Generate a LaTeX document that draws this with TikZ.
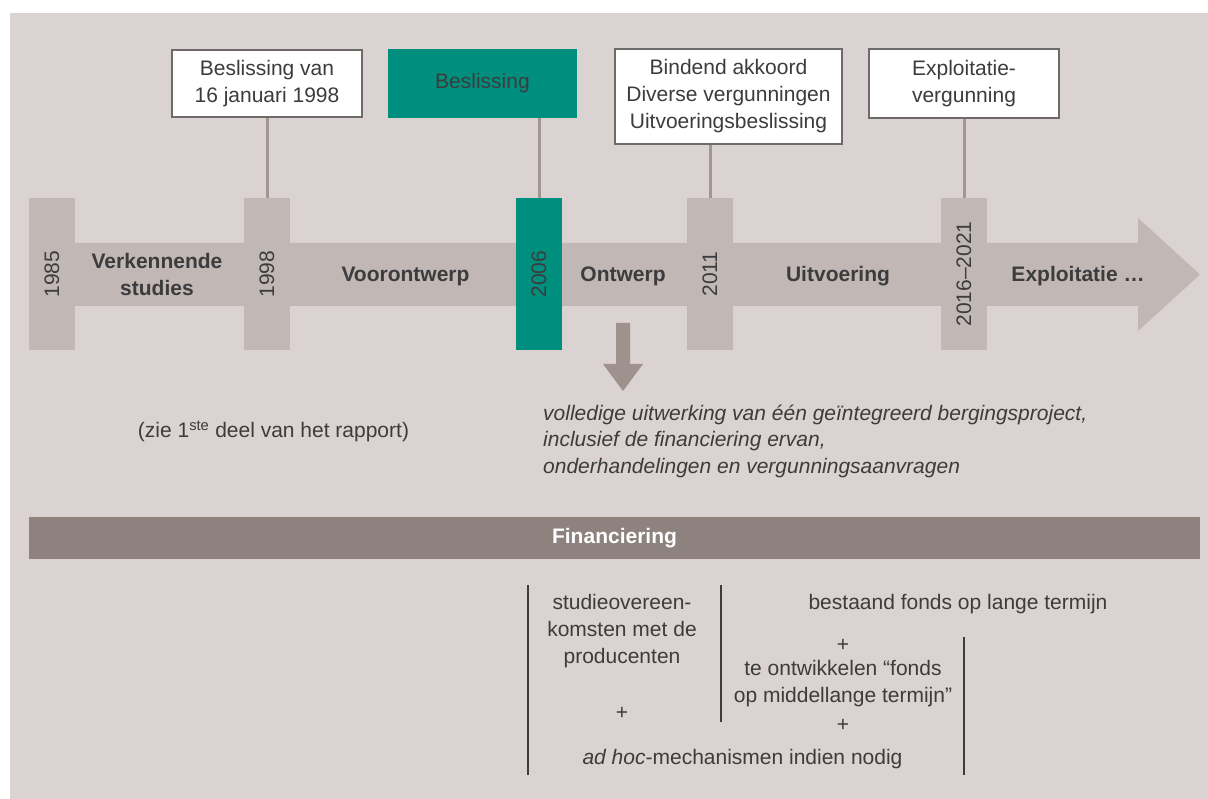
\documentclass[tikz,border=0pt]{standalone}
\usepackage{fontspec}
\setmainfont{Liberation Sans}

\definecolor{paper}{HTML}{DBD3D1}
\definecolor{band}{HTML}{C1B7B4}
\definecolor{barbrown}{HTML}{8E827E}
\definecolor{stemgrey}{HTML}{A09694}
\definecolor{arrowgrey}{HTML}{9E918E}
\definecolor{ondrgreen}{HTML}{008F7E}
\definecolor{inkgrey}{HTML}{3C3B3D}
\definecolor{boxline}{HTML}{6E6A6A}

\tikzset{
    tag/.style={rectangle, draw=boxline, line width=1.2pt, fill=white, align=center},
    tealtag/.style={rectangle, fill=ondrgreen, align=center},
    post/.style={rectangle, fill=band, rotate=90, minimum width=152pt, minimum height=46pt},
    phase/.style={font=\fontsize{21}{27}\selectfont\bfseries, align=center},
    stem/.style={draw=stemgrey, line width=3pt},
    divider/.style={draw=inkgrey, line width=2pt}
}

\begin{document}
\begin{tikzpicture}[x=1pt,y=-1pt,
    every node/.style={font=\fontsize{21}{27}\selectfont, text=inkgrey, inner sep=0pt}]

\useasboundingbox (0,0) rectangle (1208,799);
\fill[paper] (10,13) rectangle (1208,799);

%%%%%%%%%%%%%%%%%%%% Time line %%%%%%%%%%%%%%%%%%%%%%%%%%

%arrow band
\fill[band] (52,243) -- (1138,243) -- (1138,218) -- (1200,274.5)
    -- (1138,331) -- (1138,306) -- (52,306) -- cycle;

%year posts
\foreach \index/\xpos/\yr in {1/52/1985, 2/267/1998, 4/710/2011, 5/964/2016–2021}
{
    \node[post] (y\index) at (\xpos,274) {\yr};
}
\node[post, fill=ondrgreen] (y3) at (539,274) {2006};

%phases
\node[phase] (ph1) at (157,274) {Verkennende\\studies};
\node[phase, anchor=base] (ph2) at (405.5,282) {Voorontwerp};
\node[phase, anchor=base] (ph3) at (623,282) {Ontwerp};
\node[phase, anchor=base] (ph4) at (838,282) {Uitvoering};
\node[phase, anchor=base] (ph5) at (1078,282) {Exploitatie …};

%%%%%%%%%%%%%%%%%%%% Decisions %%%%%%%%%%%%%%%%%%%%%%%%%%

\node[tag, minimum width=190pt, minimum height=67pt] (b2) at (267,83.5) {Beslissing van\\16 januari 1998};
\node[tealtag, minimum width=189pt, minimum height=69pt] (b3) at (482.5,83.5) {Beslissing};
\node[tag, minimum width=227pt, minimum height=95pt] (b4) at (728.5,96.5) {Bindend akkoord\\Diverse vergunningen\\Uitvoeringsbeslissing};
\node[tag, minimum width=190pt, minimum height=69pt] (b5) at (964,83.5) {Exploitatie-\\vergunning};

%stems from posts up to the boxes
\foreach \index in {2,...,5}
{
    \draw[stem] (y\index.east) -- (y\index.east |- b\index.south);
}

%%%%%%%%%%%%%%%%%%%% Notes %%%%%%%%%%%%%%%%%%%%%%%%%%

\fill[arrowgrey] (616,323) -- (630,323) -- (630,364) -- (643,364) -- (623,391)
    -- (603,364) -- (616,364) -- cycle;

% base of a multi-line node = last line
\node[anchor=base west, align=left, font=\fontsize{21}{27}\selectfont\itshape] (ontwerp) at (543,474)
    {volledige uitwerking van één geïntegreerd bergingsproject,\\inclusief de financiering ervan,\\onderhandelingen en vergunningsaanvragen};

\node[anchor=base] (zie) at (273.5,438) {(zie 1\textsuperscript{ste} deel van het rapport)};

%%%%%%%%%%%%%%%%%%%% Financing %%%%%%%%%%%%%%%%%%%%%%%%%%

\node[rectangle, fill=barbrown, minimum width=1171pt, minimum height=42pt, text=white,
    font=\fontsize{21}{27}\selectfont\bfseries] (fin) at (614.5,538) {Financiering};

\draw[divider] (528,585) -- (528,775);
\draw[divider] (721,585) -- (721,722);
\draw[divider] (964,637) -- (964,775);

\node[anchor=base, align=center] (studie) at (622,663) {studieovereen-\\komsten met de\\producenten};
\node[anchor=base] (plus1) at (622,719.5) {+};
\node[anchor=base] (fonds) at (958,609) {bestaand fonds op lange termijn};
\node[anchor=base] (plus2) at (843,651.5) {+};
\node[anchor=base, align=center] (middel) at (843,702) {te ontwikkelen “fonds\\op middellange termijn”};
\node[anchor=base] (plus3) at (843,731.5) {+};
\node[anchor=base] (adhoc) at (742.5,764) {\textit{ad hoc}-mechanismen indien nodig};

\end{tikzpicture}
\end{document}
